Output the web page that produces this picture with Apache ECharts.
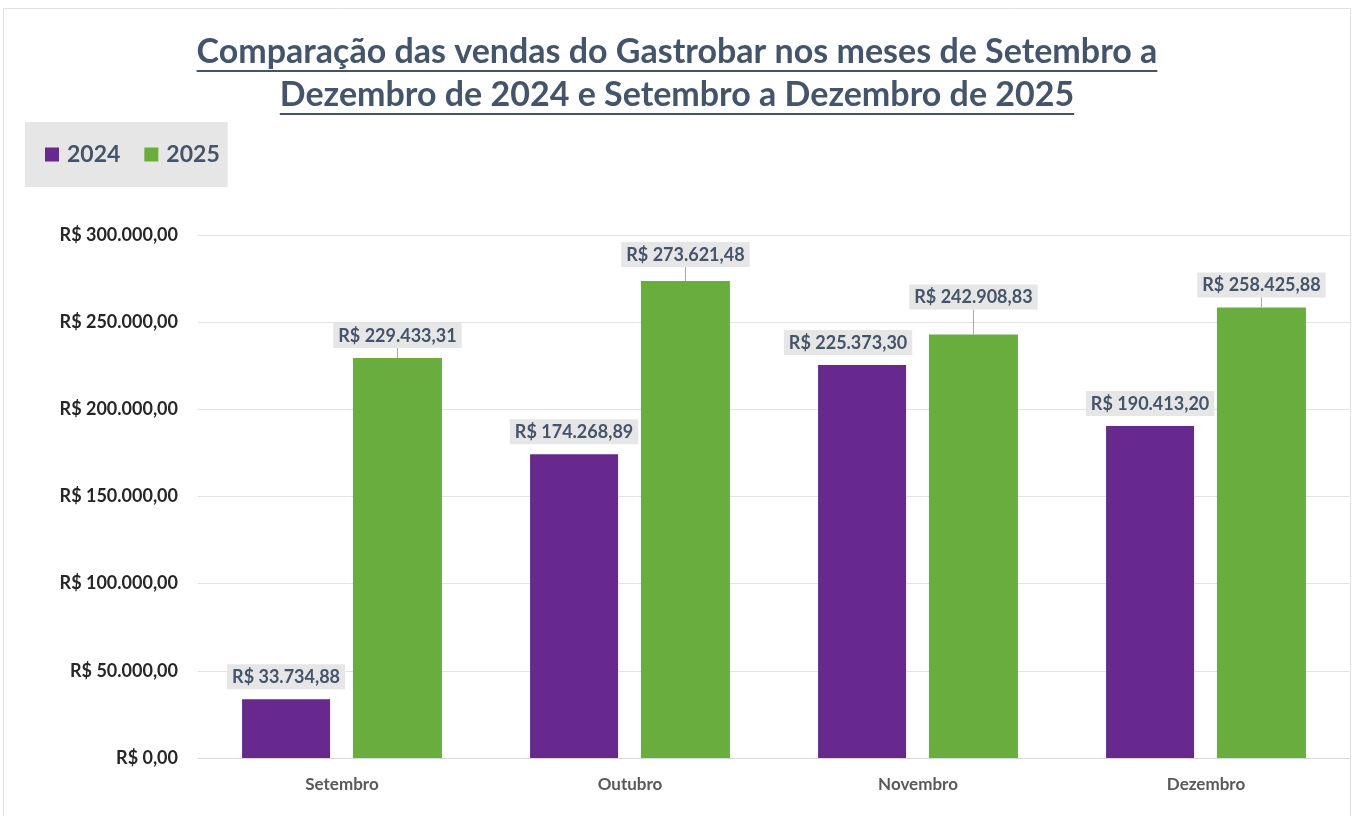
<!DOCTYPE html>
<html>
<head>
<meta charset="utf-8">
<script src="https://cdn.jsdelivr.net/npm/echarts@6/dist/echarts.min.js"></script>
<style>
  html, body { margin: 0; padding: 0; background: #fff; }
  #chart { width: 1354px; height: 816px; }
</style>
</head>
<body>
<div id="chart"></div>
<script>
// dados das vendas
const meses = ['Setembro', 'Outubro', 'Novembro', 'Dezembro'];
const vendas2024 = [33734.88, 174268.89, 225373.30, 190413.20];
const vendas2025 = [229433.31, 273621.48, 242908.83, 258425.88];
const titulo = [
  'Comparação das vendas do Gastrobar nos meses de Setembro a',
  'Dezembro de 2024 e Setembro a Dezembro de 2025'
];

const corTexto = '#44546A';
const fonte = 'Lato, "Open Sans", sans-serif';

function formatarReal(v) {
  const partes = v.toFixed(2).split('.');
  const inteiro = partes[0].replace(/\B(?=(\d{3})+(?!\d))/g, '.');
  return 'R$ ' + inteiro + ',' + partes[1];
}

// medir largura do titulo para o sublinhado
function larguraTexto(txt, font) {
  const ctx = document.createElement('canvas').getContext('2d');
  ctx.font = font;
  return ctx.measureText(txt).width;
}

const chart = echarts.init(document.getElementById('chart'), null, { renderer: 'canvas' });

const tamTitulo = 34;
const linhasTitulo = [70, 113];
const sublinhados = titulo.map((t, i) => {
  const w = larguraTexto(t, 'bold ' + tamTitulo + 'px Lato');
  return {
    type: 'rect',
    shape: { x: 677 - w / 2, y: linhasTitulo[i], width: w, height: 2 },
    style: { fill: corTexto }
  };
});

const rotulo = {
  show: true,
  position: 'top',
  distance: 10,
  color: corTexto,
  fontFamily: fonte,
  fontWeight: 'bold',
  fontSize: 18,
  backgroundColor: '#E7E6E6',
  padding: [4, 5, 3, 5],
  formatter: p => formatarReal(p.value)
};

// rótulos deslocados (como no Excel)
const deslocar2025 = { 1: -4, 2: -15 };

const option = {
  backgroundColor: '#fff',
  textStyle: { fontFamily: fonte },
  title: {
    text: titulo.join('\n'),
    left: 'center',
    top: 26,
    textStyle: {
      color: corTexto,
      fontFamily: 'Lato',
      fontWeight: 'bold',
      fontSize: tamTitulo,
      lineHeight: 43
    }
  },
  graphic: sublinhados.concat([{
    type: 'rect',
    shape: { x: 3.5, y: 8.5, width: 1347, height: 820 },
    style: { fill: null, stroke: '#E0E0E0', lineWidth: 1 },
    z: -1
  }]),
  legend: {
    left: 25,
    top: 122,
    backgroundColor: '#E7E6E6',
    padding: [21, 8, 21, 20],
    itemWidth: 14,
    itemHeight: 14,
    itemGap: 24,
    icon: 'rect',
    textStyle: { color: corTexto, fontSize: 23, fontWeight: 'bold', fontFamily: fonte, padding: [0, 0, 0, 3] },
    data: ['2024', '2025']
  },
  grid: {
    left: 198,
    right: 4,
    top: 235,
    bottom: 58,
    containLabel: false
  },
  xAxis: {
    type: 'category',
    data: meses,
    axisTick: { show: false },
    axisLine: { lineStyle: { color: '#D9D9D9' } },
    axisLabel: { color: '#595959', fontSize: 17, fontWeight: 'bold', fontFamily: fonte, margin: 18 }
  },
  yAxis: {
    type: 'value',
    min: 0,
    max: 300000,
    interval: 50000,
    axisLine: { show: false },
    axisTick: { show: false },
    splitLine: { lineStyle: { color: '#E3E3E3' } },
    axisLabel: {
      color: '#262626',
      fontSize: 18,
      fontWeight: 'bold',
      fontFamily: fonte,
      margin: 20,
      formatter: v => formatarReal(v)
    }
  },
  series: [
    {
      name: '2024',
      type: 'bar',
      data: vendas2024,
      barWidth: 88,
      barGap: '26%',
      itemStyle: { color: '#68298F' },
      label: rotulo,
      labelLayout: p => p.dataIndex === 2 ? { dx: -14 } : {}
    },
    {
      name: '2025',
      type: 'bar',
      data: vendas2025,
      barWidth: 89,
      itemStyle: { color: '#6AAD3F' },
      label: rotulo,
      labelLine: { show: true, lineStyle: { color: '#A6A6A6', width: 1 } },
      labelLayout: p => deslocar2025[p.dataIndex] ? { dy: deslocar2025[p.dataIndex] } : {}
    }
  ]
};

chart.setOption(option);

window.addEventListener('resize', function() {
  chart.resize();
});
</script>
</body>
</html>
